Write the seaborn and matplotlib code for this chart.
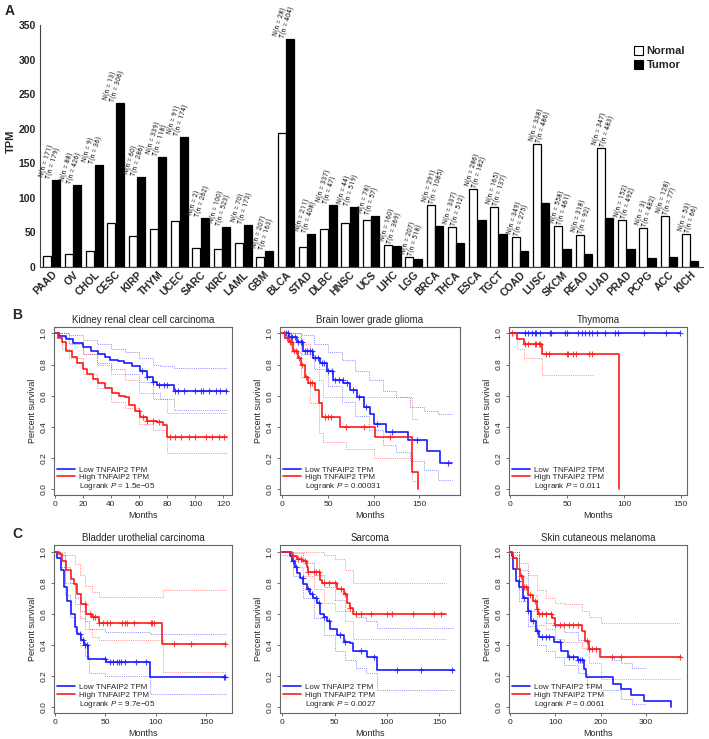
import numpy as np
import pandas as pd
import matplotlib
matplotlib.use("Agg")
import matplotlib.pyplot as plt
import seaborn as sns
from matplotlib.lines import Line2D
from matplotlib.patches import Patch
from matplotlib import font_manager

# ── Panel A: TNFAIP2 expression (TPM) ─────────────────────────────────────────
CANCERS = ["PAAD", "OV", "CHOL", "CESC", "KIRP", "THYM", "UCEC", "SARC", "KIRC",
           "LAML", "GBM", "BLCA", "STAD", "DLBC", "HNSC", "UCS", "LIHC", "LGG",
           "BRCA", "THCA", "ESCA", "TGCT", "COAD", "LUSC", "SKCM", "READ", "LUAD",
           "PRAD", "PCPG", "ACC", "KICH"]
NORMAL_TPM = [15, 18, 23, 64, 44, 55, 66, 27, 26, 34, 13.5, 193, 28, 55, 64, 67,
              32, 13.5, 89, 57, 113, 86, 43, 178, 59, 46, 172, 68, 56, 73, 47]
TUMOR_TPM = [126, 119, 147, 237, 130, 159, 188, 70, 58, 60, 23, 330, 47, 89, 86,
             73, 30, 11.5, 59, 35, 67, 47, 23, 92, 26, 19, 71, 26, 12.5, 14.5, 8]
NORMAL_N = [171, 88, 9, 13, 60, 339, 91, 2, 100, 70, 207, 28, 211, 337, 44, 78,
            160, 207, 291, 337, 286, 165, 349, 338, 558, 318, 347, 152, 3, 128, 53]
TUMOR_N = [179, 426, 36, 306, 286, 118, 174, 262, 523, 173, 163, 404, 408, 47,
           519, 57, 369, 518, 1085, 512, 182, 137, 275, 486, 461, 92, 483, 492,
           482, 77, 66]

# ── Panel B/C: Kaplan-Meier curves (time in months, survival fraction) ────────
KIRC_LOW_T = [0, 3, 8, 13, 20, 26, 31, 36, 39, 45, 49, 55, 61, 66, 70, 73, 85, 123]
KIRC_LOW_S = [1.0, 0.985, 0.965, 0.94, 0.91, 0.89, 0.87, 0.85, 0.83, 0.82, 0.81,
              0.79, 0.76, 0.72, 0.69, 0.667, 0.632, 0.632]
KIRC_HIGH_T = [0, 2, 5, 8, 12, 16, 20, 23, 27, 31, 36, 41, 46, 50, 53, 57, 61, 66,
               73, 77, 80, 123]
KIRC_HIGH_S = [1.0, 0.97, 0.944, 0.89, 0.85, 0.81, 0.77, 0.74, 0.71, 0.68, 0.65,
               0.615, 0.60, 0.59, 0.54, 0.50, 0.464, 0.44, 0.43, 0.41, 0.335, 0.335]
KIRC_LOW_CI_T = [0, 10, 20, 30, 40, 50, 60, 70, 75, 85, 123]
KIRC_LOW_UP = [1.0, 0.99, 0.96, 0.93, 0.90, 0.88, 0.84, 0.80, 0.79, 0.775, 0.775]
KIRC_LOW_LO = [1.0, 0.93, 0.87, 0.81, 0.77, 0.74, 0.69, 0.62, 0.58, 0.51, 0.51]
KIRC_HIGH_CI_T = [0, 5, 10, 20, 30, 40, 50, 60, 70, 80, 123]
KIRC_HIGH_UP = [1.0, 0.98, 0.94, 0.87, 0.80, 0.74, 0.70, 0.62, 0.58, 0.49, 0.49]
KIRC_HIGH_LO = [0.98, 0.90, 0.84, 0.74, 0.65, 0.56, 0.52, 0.42, 0.38, 0.23, 0.23]
KIRC_LOW_CENS = [62, 66, 70, 74, 78, 80, 86, 88, 92, 100, 104, 106, 110, 115, 118, 122]
KIRC_HIGH_CENS = [60, 63, 66, 70, 74, 82, 86, 90, 96, 100, 108, 112, 117, 121]

LGG_LOW_T = [0, 7, 16, 23, 34, 41, 49, 56, 67, 74, 82, 89, 96, 100, 114, 138, 158,
             173, 186]
LGG_LOW_S = [1.0, 0.98, 0.944, 0.89, 0.84, 0.81, 0.76, 0.70, 0.68, 0.635, 0.59,
             0.53, 0.485, 0.42, 0.367, 0.314, 0.245, 0.165, 0.165]
LGG_HIGH_T = [0, 3, 7, 12, 17, 21, 25, 28, 36, 40, 43, 63, 101, 142, 149]
LGG_HIGH_S = [1.0, 0.97, 0.944, 0.89, 0.84, 0.795, 0.72, 0.68, 0.635, 0.55, 0.464,
              0.40, 0.336, 0.11, 0.0]
LGG_LOW_CI_T = [0, 20, 35, 50, 65, 80, 95, 110, 125, 140, 155, 170, 186]
LGG_LOW_UP = [1.0, 0.99, 0.93, 0.88, 0.83, 0.76, 0.70, 0.63, 0.59, 0.53, 0.50,
              0.48, 0.48]
LGG_LOW_LO = [1.0, 0.87, 0.77, 0.66, 0.56, 0.47, 0.38, 0.28, 0.24, 0.18, 0.12,
              0.06, 0.06]
LGG_HIGH_CI_T = [0, 10, 20, 30, 40, 45, 70, 100, 142, 149]
LGG_HIGH_UP = [1.0, 0.98, 0.93, 0.85, 0.70, 0.59, 0.59, 0.59, 0.45, 0.45]
LGG_HIGH_LO = [1.0, 0.88, 0.72, 0.55, 0.36, 0.30, 0.26, 0.20, 0.05, 0.0]
LGG_LOW_CENS = [4, 6, 9, 11, 14, 17, 20, 22, 25, 27, 30, 33, 36, 39, 43, 46, 50,
                54, 58, 62, 66, 71, 77, 84, 92, 104, 120, 148, 182]
LGG_HIGH_CENS = [2, 5, 8, 10, 13, 15, 18, 22, 26, 30, 33, 47, 50, 53, 70, 90, 118]

THYM_LOW_T = [0, 149]
THYM_LOW_S = [1.0, 1.0]
THYM_HIGH_T = [0, 6, 12, 28, 96]
THYM_HIGH_S = [1.0, 0.965, 0.93, 0.87, 0.0]
THYM_HIGH_CI_T = [0, 6, 12, 28, 73]
THYM_HIGH_UP = [1.0, 1.0, 1.0, 1.0, 1.0]
THYM_HIGH_LO = [1.0, 0.90, 0.84, 0.73, 0.73]
THYM_LOW_CENS = [13, 16, 19, 22, 23, 26, 35, 36, 48, 50, 60, 63, 66, 69, 72, 76,
                 83, 92, 95, 118, 137, 149]
THYM_HIGH_CENS = [1.5, 13, 16, 22, 23, 25, 26, 32, 34, 50, 51, 55, 58, 69, 72]

BLCA_LOW_T = [0, 2.3, 5.6, 8.9, 12.2, 15.5, 19.8, 22.2, 25.4, 28.8, 33, 50.4,
              94.3, 169.5]
BLCA_LOW_S = [1.0, 0.96, 0.88, 0.77, 0.685, 0.60, 0.514, 0.47, 0.43, 0.40, 0.31,
              0.29, 0.193, 0.193]
BLCA_HIGH_T = [0, 4, 7.3, 10.6, 15.5, 18.9, 22.2, 25.5, 30.5, 37, 43.7, 106.6, 169.5]
BLCA_HIGH_S = [1.0, 0.985, 0.94, 0.88, 0.825, 0.79, 0.73, 0.664, 0.60, 0.578,
               0.54, 0.407, 0.407]
BLCA_LOW_CI_T = [0, 5, 10, 15, 20, 25, 30, 34, 50, 94, 169.5]
BLCA_LOW_UP = [1.0, 0.98, 0.90, 0.80, 0.70, 0.62, 0.55, 0.50, 0.48, 0.47, 0.47]
BLCA_LOW_LO = [1.0, 0.90, 0.72, 0.58, 0.48, 0.40, 0.33, 0.22, 0.20, 0.08, 0.08]
BLCA_HIGH_CI_T = [0, 10, 20, 25, 30, 37, 44, 107, 169.5]
BLCA_HIGH_UP = [1.0, 0.98, 0.92, 0.85, 0.78, 0.74, 0.71, 0.75, 0.75]
BLCA_HIGH_LO = [0.98, 0.80, 0.66, 0.57, 0.50, 0.45, 0.43, 0.225, 0.225]
BLCA_LOW_CENS = [25, 28, 30, 32, 50, 55, 58, 62, 64, 66, 70, 80, 90, 168, 169]
BLCA_HIGH_CENS = [30, 35, 38, 40, 44, 48, 52, 55, 67, 70, 72, 78, 95, 96, 98, 118,
                  135, 169]

SARC_LOW_T = [0, 7.4, 9, 12.2, 13.8, 17, 20.2, 23.4, 26.6, 29.8, 33, 36.2, 39.4,
              42.6, 45.8, 52.2, 58.6, 64.9, 68, 81, 90.6, 164.4]
SARC_LOW_S = [1.0, 0.97, 0.94, 0.90, 0.865, 0.83, 0.79, 0.76, 0.73, 0.70, 0.67,
              0.60, 0.58, 0.556, 0.50, 0.46, 0.42, 0.41, 0.36, 0.32, 0.235, 0.235]
SARC_HIGH_T = [0, 9, 13.8, 18.6, 23.4, 25, 36.2, 37.8, 52.2, 58.6, 61.7, 64.9, 68,
               156.4]
SARC_HIGH_S = [1.0, 0.97, 0.95, 0.94, 0.90, 0.87, 0.82, 0.80, 0.76, 0.73, 0.67,
               0.64, 0.60, 0.60]
SARC_LOW_CI_T = [0, 10, 20, 30, 40, 50, 60, 70, 80, 91, 164.4]
SARC_LOW_UP = [1.0, 0.99, 0.93, 0.85, 0.77, 0.69, 0.62, 0.58, 0.55, 0.51, 0.51]
SARC_LOW_LO = [0.98, 0.84, 0.70, 0.57, 0.46, 0.36, 0.30, 0.25, 0.22, 0.11, 0.11]
SARC_HIGH_CI_T = [0, 10, 20, 30, 40, 50, 60, 68, 156.4]
SARC_HIGH_UP = [1.0, 1.0, 1.0, 1.0, 0.98, 0.95, 0.88, 0.80, 0.80]
SARC_HIGH_LO = [1.0, 0.90, 0.84, 0.76, 0.67, 0.62, 0.55, 0.44, 0.44]
SARC_LOW_CENS = [10, 13, 20, 25, 28, 32, 35, 40, 45, 55, 60, 75, 88, 110, 133, 162]
SARC_HIGH_CENS = [10, 15, 18, 22, 25, 30, 32, 35, 40, 45, 50, 56, 60, 65, 70, 75,
                  85, 100, 105, 125, 145, 152]

SKCM_LOW_T = [0, 3.7, 6, 13.2, 20.6, 28, 39, 46.3, 57.4, 64.7, 97.8, 112.5, 127.2,
              149.3, 164, 167.7, 226.6, 244.9, 267, 296.5, 355.5]
SKCM_LOW_S = [1.0, 0.97, 0.89, 0.81, 0.77, 0.70, 0.617, 0.553, 0.49, 0.447, 0.415,
              0.36, 0.32, 0.30, 0.245, 0.19, 0.15, 0.117, 0.074, 0.037, 0.0]
SKCM_HIGH_T = [0, 3.7, 6, 14.7, 22, 29.4, 40.5, 51.5, 58.9, 62.5, 92, 99.6, 158.9,
               166, 173.5, 199.2, 378]
SKCM_HIGH_S = [1.0, 0.99, 0.96, 0.89, 0.84, 0.77, 0.72, 0.68, 0.63, 0.60, 0.575,
               0.53, 0.49, 0.425, 0.373, 0.32, 0.32]
SKCM_LOW_CI_T = [0, 20, 40, 60, 80, 100, 120, 150, 170, 200, 230, 245, 270, 300]
SKCM_LOW_UP = [1.0, 0.88, 0.72, 0.60, 0.54, 0.52, 0.48, 0.43, 0.38, 0.33, 0.30,
               0.28, 0.25, 0.25]
SKCM_LOW_LO = [0.96, 0.68, 0.52, 0.40, 0.36, 0.32, 0.27, 0.22, 0.13, 0.11, 0.11,
               0.05, 0.02, 0.02]
SKCM_HIGH_CI_T = [0, 20, 40, 60, 80, 100, 120, 160, 175, 200, 378]
SKCM_HIGH_UP = [1.0, 0.93, 0.85, 0.75, 0.70, 0.67, 0.66, 0.62, 0.58, 0.54, 0.54]
SKCM_HIGH_LO = [0.98, 0.76, 0.62, 0.53, 0.50, 0.44, 0.42, 0.38, 0.28, 0.18, 0.18]
SKCM_LOW_CENS = [20, 30, 40, 50, 60, 70, 80, 85, 110, 130, 140, 150, 155, 160]
SKCM_HIGH_CENS = [25, 30, 35, 45, 55, 60, 65, 70, 80, 90, 100, 110, 120, 130, 140,
                  150, 170, 175, 180, 190, 225, 245, 375]

KM_TITLES = ["Kidney renal clear cell carcinoma", "Brain lower grade glioma",
             "Thymoma", "Bladder urothelial carcinoma", "Sarcoma",
             "Skin cutaneous melanoma"]
KM_PVALUES = ["1.5e\u221205", "0.00031", "0.011", "9.7e\u221205", "0.0027", "0.0061"]
KM_XTICKS = [[0, 20, 40, 60, 80, 100, 120], [0, 50, 100, 150], [0, 50, 100, 150],
             [0, 50, 100, 150], [0, 50, 100, 150], [0, 100, 200, 300]]
KM_XLIMS = [(-0.7, 126.4), (-2.5, 194.6), (-0.9, 155.3), (-1.0, 175.8),
            (-2.2, 169.9), (-2.2, 390.7)]

BLUE = "#1a1aff"
RED = "#ff1a1a"


def step_at(times, surv, x):
    idx = np.searchsorted(np.asarray(times), np.asarray(x), side="right") - 1
    return np.asarray(surv)[np.clip(idx, 0, len(surv) - 1)]


def fig_axes(fig, left, top, right, bottom, W=709, H=739):
    return fig.add_axes([left / W, 1 - bottom / H, (right - left) / W, (bottom - top) / H])


def narrow_family():
    names = {f.name for f in font_manager.fontManager.ttflist}
    for cand in ("Liberation Sans Narrow", "DejaVu Sans Condensed", "Roboto Condensed"):
        if cand in names:
            return [cand, "Liberation Sans"]
    return ["Liberation Sans"]


def draw_km(ax, title, pval, xticks, xlim, low, high, low_ci, high_ci, low_cens,
            high_cens, low_label="Low TNFAIP2 TPM"):
    for (t, up, lo), color in ((low_ci, BLUE), (high_ci, RED)):
        if t is None:
            continue
        for band in (up, lo):
            sns.lineplot(x=t, y=band, ax=ax, color=color, lw=0.7, ls=(0, (1, 1.2)),
                         alpha=0.5, drawstyle="steps-post", estimator=None,
                         sort=False, legend=False)
    for (t, s), cens, color in ((low, low_cens, BLUE), (high, high_cens, RED)):
        sns.lineplot(x=t, y=s, ax=ax, color=color, lw=1.2, drawstyle="steps-post",
                     estimator=None, sort=False, legend=False)
        ax.plot(cens, step_at(t, s, cens), ls="none", marker="+", ms=4.5,
                mew=0.8, color=color, alpha=0.8)

    ax.set_xlim(*xlim)
    ax.set_ylim(-0.038, 1.043)
    ax.set_xticks(xticks)
    ax.set_yticks([0, 0.2, 0.4, 0.6, 0.8, 1.0])
    ax.set_yticklabels(["0.0", "0.2", "0.4", "0.6", "0.8", "1.0"], rotation=90,
                       va="center")
    ax.tick_params(labelsize=6, length=2.5, width=0.6, color="#555555", pad=2)
    for sp in ax.spines.values():
        sp.set_visible(True)
        sp.set_color("#666666")
        sp.set_linewidth(0.8)
    ax.set_title(title, fontsize=7, pad=3)
    ax.set_xlabel("Months", fontsize=6.5, labelpad=2)
    ax.set_ylabel("Percent survival", fontsize=6.5, labelpad=3)
    handles = [Line2D([], [], color=BLUE, lw=1.2), Line2D([], [], color=RED, lw=1.2),
               Line2D([], [], color="none")]
    labels = [low_label, "High TNFAIP2 TPM", "Logrank $\\it{P}$ = " + pval]
    ax.legend(handles, labels, loc="lower left", frameon=False, fontsize=5.8,
              handlelength=2.3, handletextpad=0.5, labelspacing=0.0,
              borderaxespad=0.15, borderpad=0.2)


def main():
    sns.set_style("ticks")
    plt.rcParams["font.family"] = ["Liberation Sans", "DejaVu Sans"]
    plt.rcParams["mathtext.fontset"] = "custom"
    plt.rcParams["mathtext.it"] = "Liberation Sans:italic"
    plt.rcParams["mathtext.rm"] = "Liberation Sans"

    fig = plt.figure(figsize=(7.09, 7.39), dpi=100)

    # ── Panel A ──
    df = pd.DataFrame({
        "cancer": CANCERS * 2,
        "tpm": NORMAL_TPM + TUMOR_TPM,
        "group": ["Normal"] * len(CANCERS) + ["Tumor"] * len(CANCERS),
    })
    ax = fig_axes(fig, 40, 25, 703, 266.7)
    sns.barplot(data=df, x="cancer", y="tpm", hue="group",
                hue_order=["Normal", "Tumor"],
                palette={"Normal": "white", "Tumor": "black"}, saturation=1,
                edgecolor="black", linewidth=0.9, width=0.8, gap=0.06, ax=ax,
                legend=False)
    ax.set_xlim(-0.55, 30.6)
    ax.set_ylim(0, 350)
    ax.set_yticks(range(0, 351, 50))
    sns.despine(ax=ax)
    ax.spines["left"].set_color("#444444")
    ax.spines["bottom"].set_color("#444444")
    ax.tick_params(axis="y", labelsize=7.5, length=0, pad=3)
    ax.tick_params(axis="x", labelsize=7.5, length=0, pad=2)
    for lab in ax.get_yticklabels():
        lab.set_fontweight("bold")
    ax.set_xticks(range(len(CANCERS)))
    ax.set_xticklabels(CANCERS, rotation=45, ha="right", rotation_mode="anchor",
                       fontweight="bold")
    ax.set_xlabel("")
    ax.set_ylabel("TPM", fontsize=8, fontweight="bold")
    ax.yaxis.set_label_coords(-24 / 663, 0.52)

    narrow = narrow_family()
    for i, (nv, tv, nn, tn) in enumerate(zip(NORMAL_TPM, TUMOR_TPM, NORMAL_N, TUMOR_N)):
        ax.text(i + 0.02, max(nv, tv), f"N(n = {nn})\nT(n = {tn})",
                rotation=73, rotation_mode="anchor", ha="left", va="bottom",
                fontsize=5.8, linespacing=0.95, family=narrow)

    handles = [Patch(facecolor="white", edgecolor="black", lw=0.8),
               Patch(facecolor="black", edgecolor="black", lw=0.8)]
    ax.legend(handles, ["Normal", "Tumor"], loc="upper right",
              bbox_to_anchor=(695 / 709, 1 - 36 / 739), bbox_transform=fig.transFigure,
              frameon=False, handlelength=0.8, handleheight=0.8, handletextpad=0.3,
              labelspacing=0.35, prop={"weight": "bold", "size": 8})

    # ── Panels B and C ──
    cols = [(54, 232), (280, 460), (509, 687)]
    rows = [(326.7, 495), (545, 712.7)]
    cohorts = [
        ((KIRC_LOW_T, KIRC_LOW_S), (KIRC_HIGH_T, KIRC_HIGH_S),
         (KIRC_LOW_CI_T, KIRC_LOW_UP, KIRC_LOW_LO),
         (KIRC_HIGH_CI_T, KIRC_HIGH_UP, KIRC_HIGH_LO), KIRC_LOW_CENS, KIRC_HIGH_CENS),
        ((LGG_LOW_T, LGG_LOW_S), (LGG_HIGH_T, LGG_HIGH_S),
         (LGG_LOW_CI_T, LGG_LOW_UP, LGG_LOW_LO),
         (LGG_HIGH_CI_T, LGG_HIGH_UP, LGG_HIGH_LO), LGG_LOW_CENS, LGG_HIGH_CENS),
        ((THYM_LOW_T, THYM_LOW_S), (THYM_HIGH_T, THYM_HIGH_S),
         (None, None, None),
         (THYM_HIGH_CI_T, THYM_HIGH_UP, THYM_HIGH_LO), THYM_LOW_CENS, THYM_HIGH_CENS),
        ((BLCA_LOW_T, BLCA_LOW_S), (BLCA_HIGH_T, BLCA_HIGH_S),
         (BLCA_LOW_CI_T, BLCA_LOW_UP, BLCA_LOW_LO),
         (BLCA_HIGH_CI_T, BLCA_HIGH_UP, BLCA_HIGH_LO), BLCA_LOW_CENS, BLCA_HIGH_CENS),
        ((SARC_LOW_T, SARC_LOW_S), (SARC_HIGH_T, SARC_HIGH_S),
         (SARC_LOW_CI_T, SARC_LOW_UP, SARC_LOW_LO),
         (SARC_HIGH_CI_T, SARC_HIGH_UP, SARC_HIGH_LO), SARC_LOW_CENS, SARC_HIGH_CENS),
        ((SKCM_LOW_T, SKCM_LOW_S), (SKCM_HIGH_T, SKCM_HIGH_S),
         (SKCM_LOW_CI_T, SKCM_LOW_UP, SKCM_LOW_LO),
         (SKCM_HIGH_CI_T, SKCM_HIGH_UP, SKCM_HIGH_LO), SKCM_LOW_CENS, SKCM_HIGH_CENS),
    ]
    for k, cohort in enumerate(cohorts):
        top, bottom = rows[k // 3]
        left, right = cols[k % 3]
        kax = fig_axes(fig, left, top, right, bottom)
        draw_km(kax, KM_TITLES[k], KM_PVALUES[k], KM_XTICKS[k], KM_XLIMS[k], *cohort,
                low_label="Low  TNFAIP2 TPM" if k == 2 else "Low TNFAIP2 TPM")

    fig.text(5 / 709, 1 - 11 / 739, "A", fontsize=10, fontweight="bold", va="center")
    fig.text(12 / 709, 1 - 315 / 739, "B", fontsize=10, fontweight="bold", va="center")
    fig.text(12 / 709, 1 - 534 / 739, "C", fontsize=10, fontweight="bold", va="center")

    fig.savefig("out.png", dpi=100)
    plt.close(fig)


if __name__ == "__main__":
    main()
